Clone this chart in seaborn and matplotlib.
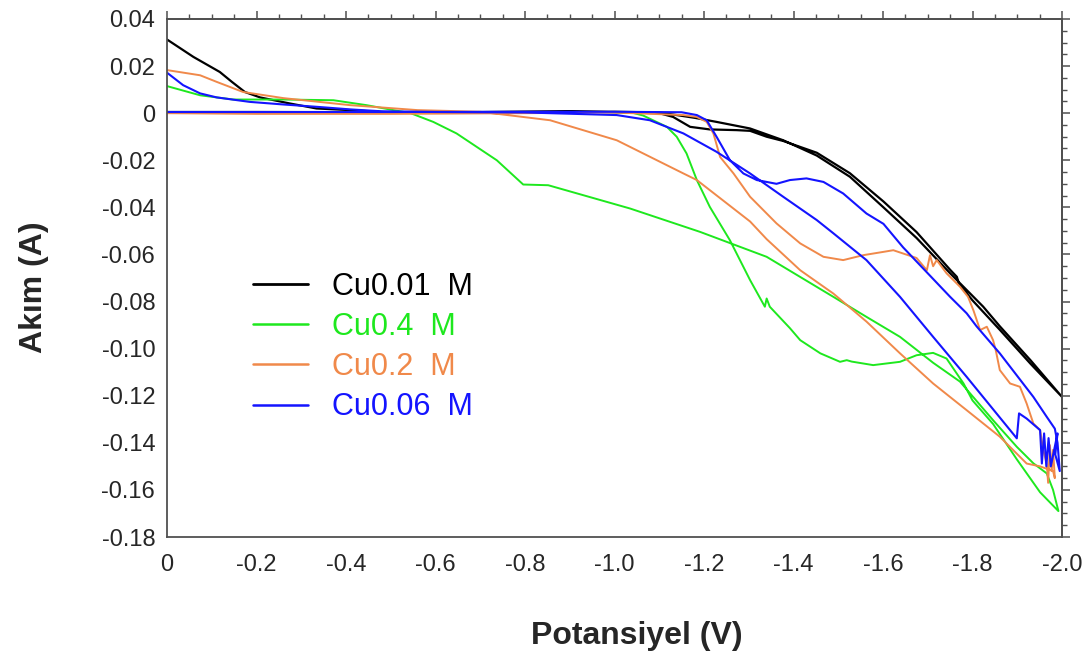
import numpy as np
import pandas as pd
import matplotlib
matplotlib.use("Agg")
import matplotlib.pyplot as plt
import seaborn as sns
from matplotlib.ticker import MultipleLocator, FixedLocator, FixedFormatter
from matplotlib.lines import Line2D

# ---------------- data (potential V, current A), scan order ----------------
black_v = [0, -0.2, -0.5, -0.8, -1.0, -1.1, -1.139, -1.18, -1.228, -1.303, -1.377, -1.452,
           -1.526, -1.601, -1.675, -1.75, -1.824, -1.861, -1.93, -2.0,
           -1.93, -1.861, -1.8, -1.77, -1.765, -1.75, -1.675, -1.601, -1.526, -1.452, -1.377,
           -1.34, -1.303, -1.273, -1.213, -1.169, -1.131, -1.1, -0.9, -0.6, -0.5, -0.47, -0.41,
           -0.334, -0.275, -0.208, -0.174, -0.145, -0.118, -0.059, 0]
black_i = [0.0005, 0.0005, 0.0004, 0.0005, 0.0006, 0.0003, -0.0008, -0.002, -0.0037, -0.0065,
           -0.0115, -0.018, -0.027, -0.040, -0.053, -0.068, -0.0822, -0.0905, -0.105, -0.1205,
           -0.1065, -0.092, -0.0795, -0.0725, -0.0695, -0.0665, -0.0505, -0.0375, -0.0255, -0.0168,
           -0.0118, -0.010, -0.0075, -0.0072, -0.0069, -0.0058, -0.0016, 0.0, 0.0008, 0.0003,
           0.0003, 0.0006, 0.0013, 0.002, 0.0041, 0.0067, 0.009, 0.0133, 0.0175, 0.0239, 0.0313]

green_v = [0, -0.2, -0.5, -0.8, -1.0, -1.04, -1.064, -1.117, -1.139, -1.161, -1.184, -1.213,
           -1.258, -1.303, -1.336, -1.340, -1.347, -1.392, -1.415, -1.46, -1.504, -1.519, -1.53,
           -1.578, -1.638, -1.675, -1.712, -1.742, -1.78, -1.80, -1.846, -1.899, -1.951, -1.992,
           -1.98, -1.966, -1.936, -1.899, -1.846, -1.772, -1.712, -1.638, -1.563, -1.489, -1.34,
           -1.191, -1.035, -0.852, -0.796, -0.737, -0.692, -0.647, -0.595, -0.543, -0.506,
           -0.446, -0.372, -0.26, -0.148, -0.074, 0]
green_i = [0.0003, 0.0004, 0.0004, 0.0005, 0.0005, 0.0002, -0.001, -0.0058, -0.010, -0.0171,
           -0.0284, -0.0398, -0.054, -0.0709, -0.0822, -0.0787, -0.0822, -0.0913, -0.0964, -0.102,
           -0.1056, -0.1049, -0.1055, -0.107, -0.1056, -0.1028, -0.1018, -0.1042, -0.1148, -0.122,
           -0.132, -0.147, -0.161, -0.169,
           -0.160, -0.153, -0.1487, -0.1417, -0.1304, -0.114, -0.106, -0.095, -0.0865, -0.078,
           -0.061, -0.0504, -0.0405, -0.0306, -0.0303, -0.020, -0.0143, -0.0086, -0.0037, 0.0001,
           0.0013, 0.0034, 0.0055, 0.0058, 0.0058, 0.0076, 0.0115]

orange_v = [0, -0.2, -0.5, -0.8, -1.0, -1.154, -1.184, -1.206, -1.221, -1.236, -1.266, -1.303,
            -1.362, -1.415, -1.467, -1.511, -1.556, -1.601, -1.623, -1.645, -1.675, -1.698, -1.705,
            -1.712, -1.72, -1.742, -1.772, -1.79, -1.802, -1.817, -1.832, -1.846, -1.852, -1.861,
            -1.884, -1.906, -1.921, -1.936, -1.951, -1.958, -1.966, -1.969, -1.973, -1.977, -1.98,
            -1.984,
            -1.98, -1.951, -1.921, -1.861, -1.786, -1.712, -1.638, -1.563, -1.489, -1.415, -1.34,
            -1.303, -1.184, -1.154, -1.005, -0.856, -0.70, -0.56, -0.41, -0.26, -0.17, -0.111,
            -0.074, 0]
orange_i = [0.0, -0.0003, -0.0003, 0.0, 0.0003, -0.0008, -0.0016, -0.0037, -0.0086, -0.0186,
            -0.0256, -0.0355, -0.0468, -0.0553, -0.061, -0.0624, -0.0603, -0.0589, -0.0582,
            -0.0596, -0.0615, -0.0667, -0.0603, -0.065, -0.0624, -0.068, -0.0737, -0.078, -0.0837,
            -0.0921, -0.0907, -0.0964, -0.1007, -0.1091, -0.1148, -0.1162, -0.1233, -0.1318,
            -0.1346, -0.143, -0.149, -0.157, -0.141, -0.152, -0.143, -0.155,
            -0.152, -0.150, -0.1488, -0.1374, -0.126, -0.1148, -0.102, -0.0885, -0.0766, -0.0667,
            -0.0535, -0.046, -0.0284, -0.0256, -0.0115, -0.003, 0.0006, 0.0013, 0.0034, 0.0064,
            0.009, 0.0133, 0.0161, 0.0183]

blue_v = [0, -0.2, -0.5, -0.8, -1.0, -1.15, -1.184, -1.206, -1.228, -1.258, -1.288, -1.318,
          -1.362, -1.392, -1.429, -1.467, -1.511, -1.563, -1.601, -1.645, -1.69, -1.75, -1.787,
          -1.809, -1.861, -1.936, -1.966, -1.984,
          -1.99, -1.995, -1.985, -1.99, -1.975, -1.97, -1.965, -1.96, -1.955, -1.951,
          -1.921, -1.904, -1.899, -1.787, -1.712, -1.638, -1.563, -1.489, -1.452, -1.377, -1.303,
          -1.228, -1.154, -1.079, -1.005, -0.8, -0.6, -0.48, -0.41, -0.335, -0.26, -0.185,
          -0.111, -0.074, -0.036, 0]
blue_i = [0.0005, 0.0005, 0.0005, 0.0006, 0.0006, 0.0004, -0.0008, -0.003, -0.010, -0.020,
          -0.0256, -0.0284, -0.030, -0.0284, -0.0277, -0.0292, -0.0341, -0.0426, -0.047, -0.057,
          -0.066, -0.078, -0.085, -0.0905, -0.102, -0.1205, -0.129, -0.134,
          -0.140, -0.152, -0.145, -0.136, -0.150, -0.138, -0.150, -0.136, -0.1488, -0.1346,
          -0.1297, -0.1275, -0.1381, -0.112, -0.095, -0.078, -0.0624, -0.051, -0.0454, -0.0355,
          -0.0256, -0.0164, -0.0086, -0.003, -0.0008, 0.0003, 0.0005, 0.0008, 0.0016, 0.0027,
          0.0037, 0.0048, 0.0067, 0.0084, 0.0119, 0.0172]

series_names = ["Cu0.01", "Cu0.4", "Cu0.2", "Cu0.06"]
legend_labels = ["Cu0.01  M", "Cu0.4  M", "Cu0.2  M", "Cu0.06  M"]
x_ticks = [0, -0.2, -0.4, -0.6, -0.8, -1.0, -1.2, -1.4, -1.6, -1.8, -2.0]
x_tick_labels = ["0", "-0.2", "-0.4", "-0.6", "-0.8", "-1.0", "-1.2", "-1.4", "-1.6", "-1.8", "-2.0"]
y_ticks = [0.04, 0.02, 0, -0.02, -0.04, -0.06, -0.08, -0.10, -0.12, -0.14, -0.16, -0.18]
y_tick_labels = ["0.04", "0.02", "0", "-0.02", "-0.04", "-0.06", "-0.08", "-0.10", "-0.12",
                 "-0.14", "-0.16", "-0.18"]

colors = {"Cu0.01": "#000000", "Cu0.4": "#1ee81e", "Cu0.2": "#f0894a", "Cu0.06": "#1414ff"}
widths = {"Cu0.01": 1.6, "Cu0.4": 1.4, "Cu0.2": 1.4, "Cu0.06": 1.5}

frames = []
for name, v, i in [("Cu0.01", black_v, black_i), ("Cu0.4", green_v, green_i),
                   ("Cu0.2", orange_v, orange_i), ("Cu0.06", blue_v, blue_i)]:
    frames.append(pd.DataFrame({"V": v, "I": i, "series": name, "order": np.arange(len(v))}))
df = pd.concat(frames, ignore_index=True)

# ---------------- plot ----------------
sns.set_style("white")
plt.rcParams["font.family"] = ["Liberation Sans", "DejaVu Sans"]
plt.rcParams["axes.unicode_minus"] = False

fig = plt.figure(figsize=(10.89, 6.54), dpi=100)
ax = fig.add_axes([167 / 1089, 1 - 537 / 654, (1062 - 167) / 1089, (537 - 19) / 654])

for name in series_names:
    sub = df[df["series"] == name]
    sns.lineplot(data=sub, x="V", y="I", sort=False, estimator=None, color=colors[name],
                 lw=widths[name], ax=ax, legend=False)

ax.set_xlim(0, -2.0)
ax.set_ylim(-0.18, 0.04)

spine_c = "#505050"
for s in ax.spines.values():
    s.set_color(spine_c)
    s.set_linewidth(1.3)

ax.xaxis.set_major_locator(FixedLocator(x_ticks))
ax.xaxis.set_major_formatter(FixedFormatter(x_tick_labels))
ax.xaxis.set_minor_locator(MultipleLocator(0.05))
ax.yaxis.set_major_locator(FixedLocator(y_ticks))
ax.yaxis.set_major_formatter(FixedFormatter(y_tick_labels))
ax.yaxis.set_minor_locator(MultipleLocator(0.005))

ax.tick_params(which="major", direction="inout", length=11, width=1.1, color=spine_c)
ax.tick_params(which="minor", direction="out", length=3.5, width=1.0, color=spine_c)
ax.tick_params(axis="y", which="major", labelsize=17, pad=3)
ax.tick_params(axis="x", which="major", labelsize=17, pad=7)

sec_x = ax.secondary_xaxis("top")
sec_x.xaxis.set_major_locator(FixedLocator(x_ticks))
sec_x.xaxis.set_minor_locator(MultipleLocator(0.05))
sec_x.tick_params(which="major", direction="out", length=6, width=1.1, color=spine_c, labeltop=False)
sec_x.tick_params(which="minor", direction="out", length=3.5, width=1.0, color=spine_c)
sec_x.spines["top"].set_color(spine_c)
sec_x.spines["top"].set_linewidth(1.3)

sec_y = ax.secondary_yaxis("right")
sec_y.yaxis.set_major_locator(FixedLocator(y_ticks))
sec_y.yaxis.set_minor_locator(MultipleLocator(0.005))
sec_y.tick_params(which="major", direction="out", length=6, width=1.1, color=spine_c, labelright=False)
sec_y.tick_params(which="minor", direction="out", length=3.5, width=1.0, color=spine_c)
sec_y.spines["right"].set_color(spine_c)
sec_y.spines["right"].set_linewidth(1.3)

ax.set_xlabel("Potansiyel (V)", fontsize=23, fontweight="bold")
ax.set_ylabel("Akım (A)", fontsize=23, fontweight="bold")
ax.xaxis.set_label_coords(0.525, -0.163)
ax.yaxis.set_label_coords(-0.132, 0.483)

handles = [Line2D([0], [0], color=colors[n], lw=2.0 if n == "Cu0.01" else 1.8) for n in series_names]
leg = ax.legend(handles, legend_labels, loc="upper left", bbox_to_anchor=(253 / 1089, 1 - 272 / 654),
                bbox_transform=fig.transFigure, frameon=False, fontsize=22, handlelength=1.8,
                handletextpad=0.8, labelspacing=0.33, borderpad=0, borderaxespad=0)
for txt, n in zip(leg.get_texts(), series_names):
    txt.set_color(colors[n])

fig.savefig("out.png", dpi=100)
